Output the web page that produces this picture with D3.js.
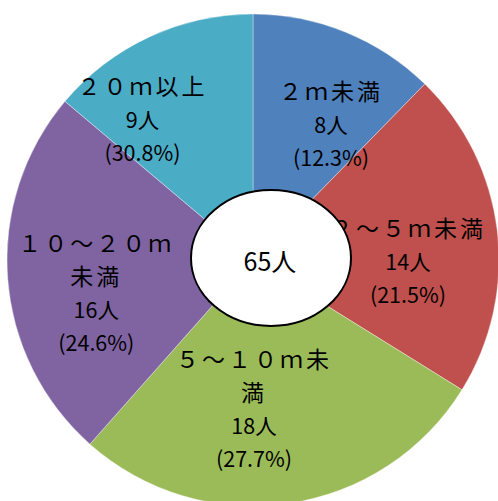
<!DOCTYPE html>
<html>
<head>
<meta charset="utf-8">
<script src="https://cdn.jsdelivr.net/npm/d3@7"></script>
<style>
  html, body { margin: 0; padding: 0; background: #fff; }
  svg { display: block; }
</style>
</head>
<body>
<div id="chart"></div>
<script>
// Distance bands, counts (people), and the printed share for each band
const categories = ["２ｍ未満", "２～５ｍ未満", "５～１０ｍ未満", "１０～２０ｍ未満", "２０ｍ以上"];
const counts = [8, 14, 18, 16, 9];
const shareLabels = ["12.3%", "21.5%", "27.7%", "24.6%", "30.8%"];
const colors = ["#4F81BD", "#C0504D", "#9BBB59", "#8064A2", "#4BACC6"];
const totalLabel = "65人";

// Label anchors: angle (degrees clockwise from 12 o'clock) and fraction of radius
const labelAngles = [29.7, 90, 179.6, 258.5, 322];
const labelRadii = [0.64, 0.63, 0.60, 0.65, 0.73];

const W = 498, H = 501;
const cx = 253, cy = 260, R = 246;
const maxCharsPerLine = 6;
const lineGap = 33;

const svg = d3.select("#chart").append("svg")
  .attr("width", W).attr("height", H);

const g = svg.append("g").attr("transform", `translate(${cx},${cy})`);

const pie = d3.pie().sort(null).value(d => d)(counts);
const arc = d3.arc().innerRadius(0).outerRadius(R);

g.selectAll("path.slice")
  .data(pie)
  .join("path")
  .attr("class", "slice")
  .attr("d", arc)
  .attr("fill", (d, i) => colors[i])
  .attr("stroke", "rgba(255,255,255,0.45)")
  .attr("stroke-width", 0.8);

// wrap a category name into lines of at most maxCharsPerLine characters
function wrap(s) {
  const chars = Array.from(s), out = [];
  for (let i = 0; i < chars.length; i += maxCharsPerLine) out.push(chars.slice(i, i + maxCharsPerLine).join(""));
  return out;
}

const rad = Math.PI / 180;
const labels = g.selectAll("g.label")
  .data(pie)
  .join("g")
  .attr("class", "label")
  .attr("transform", (d, i) => {
    const a = labelAngles[i] * rad, r = labelRadii[i] * R;
    const c = d3.arc().innerRadius(r).outerRadius(r).startAngle(a).endAngle(a).centroid();
    return `translate(${c[0]},${c[1]})`;
  });

labels.each(function (d, i) {
  const lines = wrap(categories[i]).map(t => ({ t, cat: true }));
  lines.push({ t: counts[i] + "人", cat: false });
  lines.push({ t: "(" + shareLabels[i] + ")", cat: false });
  const n = lines.length;
  d3.select(this).selectAll("text")
    .data(lines)
    .join("text")
    .attr("x", 0)
    .attr("y", (l, j) => (j - (n - 1) / 2) * lineGap)
    .attr("text-anchor", "middle")
    .attr("dominant-baseline", "central")
    .attr("font-family", "'Noto Sans CJK JP', sans-serif")
    .attr("font-size", l => l.cat ? 23 : 21.5)
    .attr("letter-spacing", l => l.cat ? 3 : 0)
    .attr("fill", "#000")
    .text(l => l.t);
});

// centre total
svg.append("ellipse")
  .attr("cx", 271).attr("cy", 258)
  .attr("rx", 80).attr("ry", 68)
  .attr("fill", "#fff")
  .attr("stroke", "#000")
  .attr("stroke-width", 2);

svg.append("text")
  .attr("x", 270).attr("y", 260)
  .attr("text-anchor", "middle")
  .attr("dominant-baseline", "central")
  .attr("font-family", "'Noto Sans CJK JP', sans-serif")
  .attr("font-size", 25)
  .attr("fill", "#000")
  .text(totalLabel);
</script>
</body>
</html>
